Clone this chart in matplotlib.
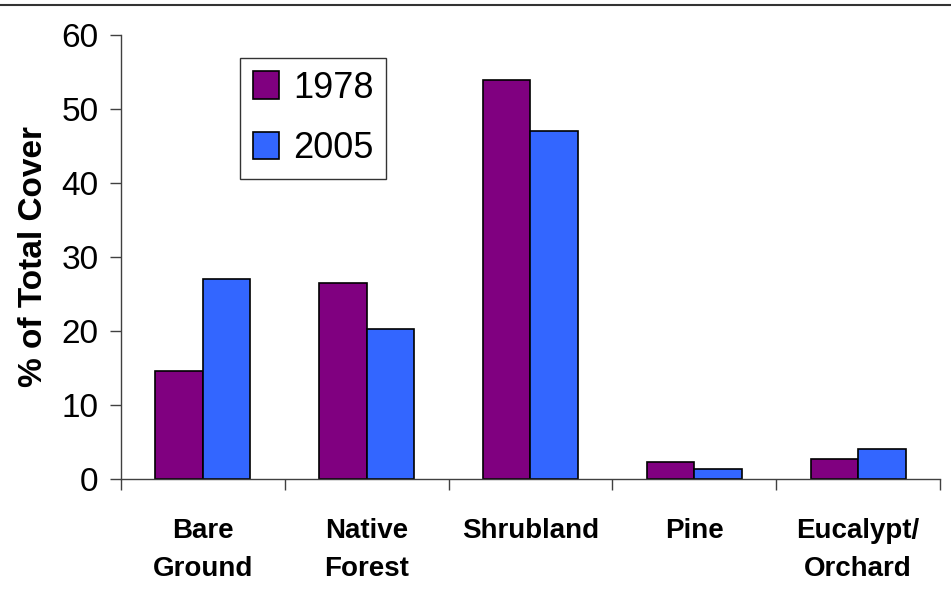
import numpy as np
import matplotlib
matplotlib.use('Agg')
import matplotlib.pyplot as plt
from matplotlib.lines import Line2D

plt.rcParams['font.family'] = ['Liberation Sans', 'DejaVu Sans']

# data
categories = ['Bare\nGround', 'Native\nForest', 'Shrubland', 'Pine', 'Eucalypt/\nOrchard']
cover_1978 = [14.6, 26.5, 53.9, 2.25, 2.7]
cover_2005 = [27.0, 20.3, 47.0, 1.35, 4.1]
years = ['1978', '2005']

fig = plt.figure(figsize=(9.51, 5.92), dpi=100)
ax = fig.add_axes([0.1272, 0.1909, 0.8612, 0.75])

x = np.arange(len(categories))
w = 0.29
ax.bar(x - w / 2, cover_1978, w, color='#800080', edgecolor='black', linewidth=1.2, label=years[0])
ax.bar(x + w / 2, cover_2005, w, color='#3366FF', edgecolor='black', linewidth=1.2, label=years[1])

ax.set_xlim(-0.5, len(categories) - 0.5)
ax.set_ylim(0, 60)
ax.set_yticks(np.arange(0, 61, 10))

# category labels in the middle, tick marks on the boundaries
ax.set_xticks(x)
ax.set_xticklabels(categories, fontsize=20, fontweight='bold', linespacing=1.6)
ax.tick_params(axis='x', which='major', length=0, pad=28)
ax.set_xticks(np.arange(-0.5, len(categories), 1), minor=True)
ax.tick_params(axis='x', which='minor', length=8, width=1, color='#404040', direction='out')
ax.tick_params(axis='y', length=8, width=1, color='#404040', direction='out', labelsize=24, pad=8)

for side in ['top', 'right']:
    ax.spines[side].set_visible(False)
for side in ['left', 'bottom']:
    ax.spines[side].set_color('#404040')
    ax.spines[side].set_linewidth(1)

ax.set_ylabel('% of Total Cover', fontsize=24, fontweight='bold', labelpad=9)

leg = ax.legend(loc='upper left', bbox_to_anchor=(0.1453, 0.948), fontsize=26,
                frameon=True, fancybox=False, edgecolor='black', handlelength=0.72,
                handleheight=0.8, handletextpad=0.4, borderpad=0.35, labelspacing=0.7,
                borderaxespad=0)
leg.get_frame().set_linewidth(1)

# thin rule across the top of the picture
fig.add_artist(Line2D([0, 1], [0.991, 0.991], transform=fig.transFigure, color='#333333', linewidth=1.5))

fig.savefig('out.png', dpi=100)
